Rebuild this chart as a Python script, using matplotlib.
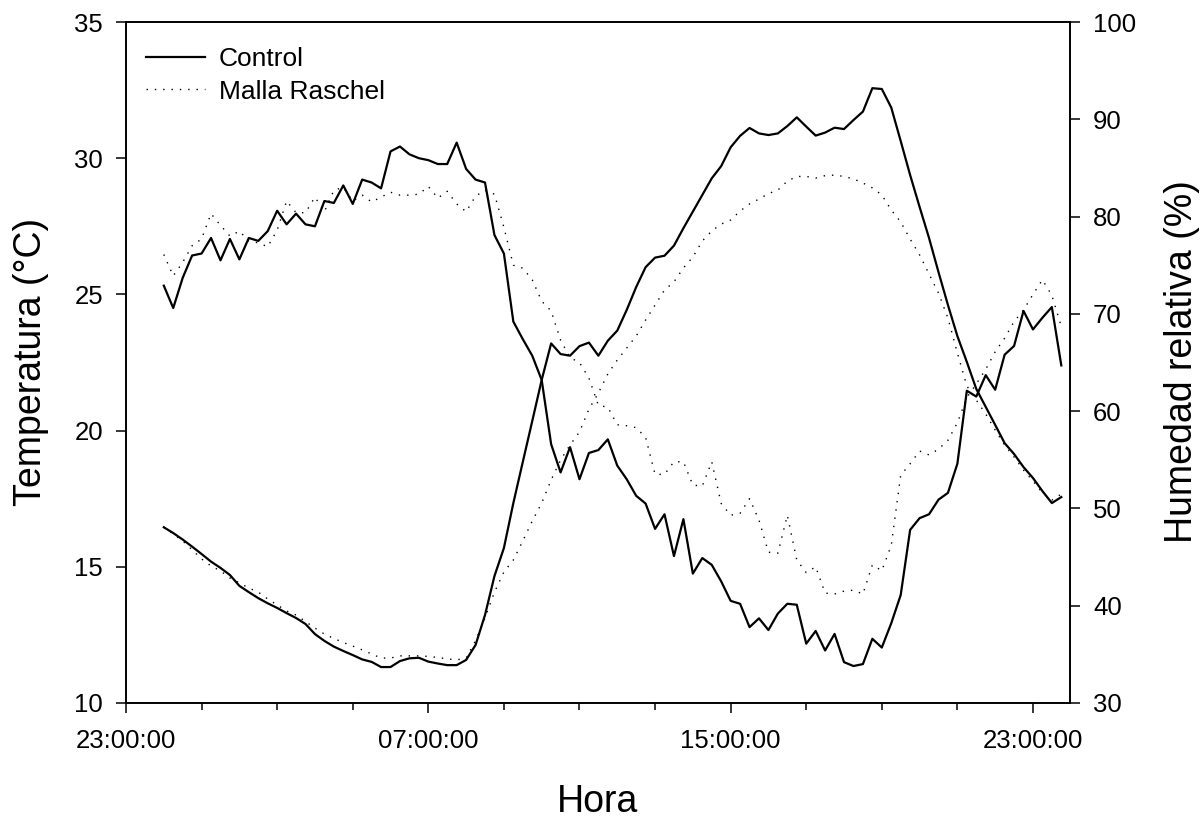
import pandas as pd
import matplotlib
matplotlib.use("Agg")
import matplotlib.pyplot as plt
import matplotlib.dates as mdates

plt.rcParams['font.family'] = ['Liberation Sans', 'DejaVu Sans']

# readings every 15 min, 00:00 to 23:45
hora = pd.date_range("2000-01-02 00:00", periods=96, freq="15min")

temp_control = [16.45, 16.24, 16.0, 15.74, 15.47, 15.19, 14.96, 14.70, 14.30, 14.07,
                13.85, 13.66, 13.49, 13.30, 13.12, 12.90, 12.53, 12.28, 12.07, 11.91,
                11.76, 11.60, 11.51, 11.32, 11.32, 11.54, 11.64, 11.66, 11.52, 11.45,
                11.39, 11.39, 11.58, 12.13, 13.23, 14.66, 15.69, 17.34, 18.85, 20.35,
                21.86, 23.2, 22.81, 22.75, 23.1, 23.23, 22.75, 23.3, 23.67, 24.43,
                25.27, 26.0, 26.35, 26.42, 26.79, 27.43, 28.04, 28.65, 29.26, 29.71,
                30.4, 30.82, 31.11, 30.91, 30.85, 30.91, 31.18, 31.5, 31.16, 30.83,
                30.94, 31.12, 31.07, 31.4, 31.71, 32.57, 32.54, 31.86, 30.63, 29.38,
                28.21, 27.07, 25.82, 24.61, 23.47, 22.52, 21.53, 20.87, 20.21, 19.54,
                19.14, 18.66, 18.26, 17.78, 17.34, 17.56]

temp_malla = [16.46, 16.20, 15.95, 15.62, 15.29, 15.03, 14.85, 14.59, 14.41, 14.22,
              14.07, 13.82, 13.60, 13.38, 13.23, 12.99, 12.75, 12.53, 12.37, 12.22,
              12.09, 11.95, 11.80, 11.65, 11.65, 11.73, 11.73, 11.73, 11.71, 11.67,
              11.62, 11.58, 11.65, 12.28, 13.12, 14.07, 14.81, 15.25, 15.95, 16.68,
              17.34, 18.19, 18.92, 19.47, 19.95, 20.79, 21.38, 22.08, 22.59, 23.03,
              23.47, 24.06, 24.61, 25.16, 25.46, 25.97, 26.37, 26.96, 27.33, 27.58,
              27.73, 28.06, 28.32, 28.50, 28.70, 28.83, 29.16, 29.33, 29.33, 29.27,
              29.36, 29.38, 29.33, 29.24, 29.09, 28.91, 28.65, 28.10, 27.66, 27.03,
              26.45, 25.75, 25.05, 24.13, 22.85, 21.64, 21.12, 20.61, 20.02, 19.47,
              19.03, 18.55, 18.15, 17.71, 17.45, 17.67]

hr_control = [72.9, 70.6, 73.7, 76.0, 76.2, 77.8, 75.5, 77.7, 75.6, 77.8,
              77.5, 78.5, 80.6, 79.2, 80.3, 79.2, 79.0, 81.6, 81.4, 83.2,
              81.3, 83.8, 83.5, 82.9, 86.7, 87.2, 86.4, 86.0, 85.8, 85.4,
              85.4, 87.6, 84.9, 83.8, 83.5, 78.1, 76.2, 69.2, 67.4, 65.7,
              63.2, 56.6, 53.7, 56.3, 53.0, 55.7, 56.0, 57.1, 54.4, 53.0,
              51.3, 50.5, 47.9, 49.4, 45.1, 48.9, 43.3, 44.9, 44.2, 42.5,
              40.5, 40.2, 37.8, 38.7, 37.5, 39.2, 40.2, 40.1, 36.1, 37.4,
              35.4, 37.1, 34.2, 33.8, 34.0, 36.6, 35.7, 38.2, 41.1, 47.8,
              49.0, 49.4, 50.9, 51.6, 54.6, 62.1, 61.5, 63.7, 62.2, 65.8,
              66.7, 70.3, 68.4, 69.6, 70.7, 64.7]

hr_malla = [76.1, 73.9, 75.3, 77.0, 77.7, 80.3, 79.1, 78.0, 78.5, 77.5,
            77.3, 76.9, 78.6, 81.6, 80.4, 80.4, 82.0, 80.5, 82.7, 83.0,
            81.6, 82.2, 81.5, 82.0, 82.5, 82.2, 82.2, 82.3, 83.1, 81.9,
            82.6, 81.3, 80.5, 82.1, 82.7, 82.3, 78.9, 75.0, 74.7, 73.5,
            71.3, 70.3, 67.3, 65.5, 65.0, 63.4, 60.6, 60.4, 58.6, 58.5,
            58.3, 57.3, 53.5, 53.5, 54.8, 54.8, 52.4, 52.3, 54.8, 50.5,
            49.3, 49.5, 51.0, 48.8, 45.5, 45.4, 49.3, 44.7, 43.4, 44.0,
            41.3, 41.2, 41.5, 41.6, 41.2, 44.2, 43.6, 46.2, 53.4, 54.6,
            55.9, 55.5, 56.1, 57.0, 58.8, 61.4, 62.8, 64.3, 66.1, 67.5,
            69.2, 70.4, 72.0, 73.5, 71.9, 68.7]

solido = dict(color='black', lw=1.6)
punteado = dict(color='black', lw=1.0, linestyle=(0, (1, 5)))

fig = plt.figure(figsize=(12.03, 8.25), dpi=100)
ax = fig.add_axes([126/1203, 1-703/825, (1070-126)/1203, (703-22)/825])
ax2 = ax.twinx()

l1, = ax.plot(hora, temp_control, **solido)
l2, = ax.plot(hora, temp_malla, **punteado)
ax2.plot(hora, hr_control, **solido)
ax2.plot(hora, hr_malla, **punteado)

x0 = pd.Timestamp("2000-01-01 23:00")
ax.set_xlim(x0, x0 + pd.Timedelta(hours=24.98))
ax.set_ylim(10, 35)
ax2.set_ylim(30, 100)
ax.set_yticks(range(10, 36, 5))
ax2.set_yticks(range(30, 101, 10))

ax.xaxis.set_major_locator(mdates.HourLocator(byhour=[23, 7, 15]))
ax.xaxis.set_minor_locator(mdates.HourLocator(byhour=range(1, 24, 2)))
ax.xaxis.set_major_formatter(mdates.DateFormatter('%H:%M:%S'))

for a in (ax, ax2):
    a.tick_params(which='major', direction='out', length=7.5, width=1.1, labelsize=18.5)
    a.tick_params(which='minor', direction='out', length=5, width=1.1)
    for s in a.spines.values():
        s.set_linewidth(1.2)
ax.tick_params(axis='y', pad=9)
ax2.tick_params(axis='y', pad=9)
ax.tick_params(axis='x', which='major', pad=11)

fig.text(13/1203, 1-362/825, 'Temperatura (°C)', rotation=90, ha='left', va='center', fontsize=27)
fig.text(1164/1203, 1-362/825, 'Humedad relativa (%)', rotation=90, ha='left', va='center', fontsize=27)
fig.text(598/1203, 1-812/825, 'Hora', ha='center', va='baseline', fontsize=27)

ax.legend([l1, l2], ['Control', 'Malla Raschel'], loc='upper left', frameon=False,
          bbox_to_anchor=(-5/944, 1), fontsize=19, handlelength=2.25,
          handletextpad=0.5, labelspacing=0.32, borderaxespad=0.55)

fig.savefig('out.png', dpi=100)
